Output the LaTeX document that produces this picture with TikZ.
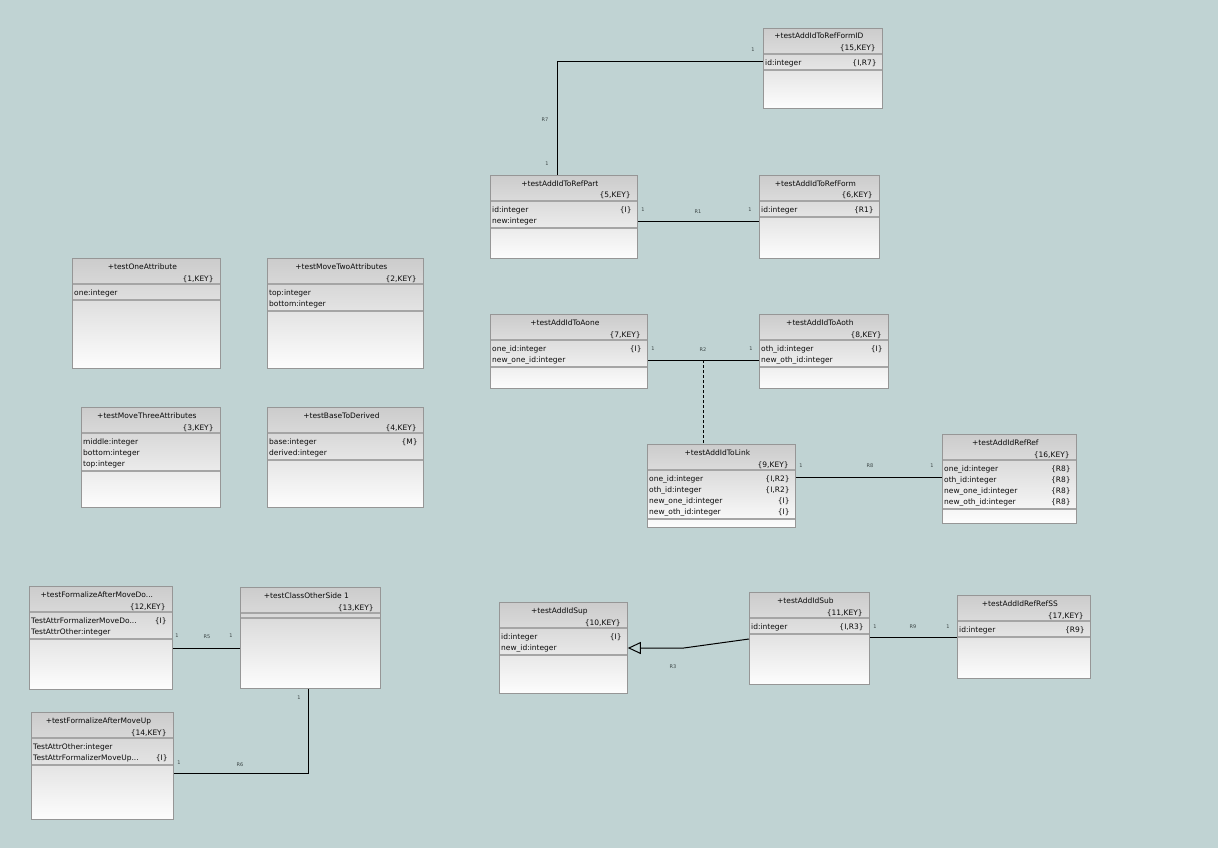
\documentclass[tikz,border=0pt]{standalone}
\usepackage{fontspec}
\setmainfont{DejaVu Sans}
\usetikzlibrary{calc,arrows.meta}
\definecolor{bgteal}{RGB}{192,211,211}
\definecolor{boxtop}{RGB}{204,204,204}
\definecolor{boxbot}{RGB}{253,253,253}
\definecolor{boxline}{RGB}{150,150,150}
\definecolor{sepcol}{RGB}{165,165,165}
\definecolor{labcol}{RGB}{60,70,70}
\definecolor{txtcol}{RGB}{10,10,10}
\tikzset{
  classbox/.style={draw=boxline, line width=0.8pt, top color=boxtop, bottom color=boxbot, inner sep=0pt, rectangle},
  sepline/.style={draw=sepcol, line width=1.6pt},
  ttl/.style={font=\fontsize{7.5}{9}\selectfont, text=txtcol, inner sep=0pt, text height=5.5pt, text depth=1.5pt},
  lab/.style={font=\fontsize{5}{6}\selectfont, text=labcol, inner sep=0pt},
  conn/.style={draw=black, line width=1pt},
}
\newcommand{\umlbox}[7]{%
  \node[classbox, anchor=north west, minimum width={(#4-#2)*1pt}, minimum height={(#5-#3)*1pt}] (#1) at (#2,#3) {};
  \draw[sepline] ($(#1.north west)+(0.5,26)$) -- ($(#1.north east)+(-0.5,26)$);
  \node[ttl] (#1-t) at ($(#1.north)+(-4,9)$) {#6};
  \node[ttl, anchor=east] (#1-k) at ($(#1.north east)+(-7,21)$) {#7};
}
\newcommand{\uattrsep}[2]{%
  \draw[sepline] ($(#1.north west)+(0.5,{42+11*(#2-1)})$) -- ($(#1.north east)+(-0.5,{42+11*(#2-1)})$);
}
\newcommand{\uattr}[4]{%
  \node[ttl, anchor=west] (#1-a#2) at ($(#1.north west)+(2,{35.5+11*(#2-1)})$) {#3};
  \node[ttl, anchor=east] (#1-f#2) at ($(#1.north east)+(-6,{35.5+11*(#2-1)})$) {#4};
}
\begin{document}
\begin{tikzpicture}[x=1pt,y=-1pt]
\useasboundingbox (0,0) rectangle (1231,861);
\fill[bgteal] (0,0) rectangle (1218,848);

% ---- classes ----
\umlbox{OneAttr}{72}{258}{220}{368}{+testOneAttribute}{\{1,KEY\}}
\uattr{OneAttr}{1}{one:integer}{}
\uattrsep{OneAttr}{1}

\umlbox{MoveTwo}{267}{258}{423}{368}{+testMoveTwoAttributes}{\{2,KEY\}}
\uattr{MoveTwo}{1}{top:integer}{}
\uattr{MoveTwo}{2}{bottom:integer}{}
\uattrsep{MoveTwo}{2}

\umlbox{MoveThree}{81}{407}{220}{507}{+testMoveThreeAttributes}{\{3,KEY\}}
\uattr{MoveThree}{1}{middle:integer}{}
\uattr{MoveThree}{2}{bottom:integer}{}
\uattr{MoveThree}{3}{top:integer}{}
\uattrsep{MoveThree}{3}

\umlbox{BaseDer}{267}{407}{423}{507}{+testBaseToDerived}{\{4,KEY\}}
\uattr{BaseDer}{1}{base:integer}{\{M\}}
\uattr{BaseDer}{2}{derived:integer}{}
\uattrsep{BaseDer}{2}

\umlbox{FormID}{763}{28}{882}{108}{+testAddIdToRefFormID}{\{15,KEY\}}
\uattr{FormID}{1}{id:integer}{\{I,R7\}}
\uattrsep{FormID}{1}

\umlbox{RefPart}{490}{175}{637}{258}{+testAddIdToRefPart}{\{5,KEY\}}
\uattr{RefPart}{1}{id:integer}{\{I\}}
\uattr{RefPart}{2}{new:integer}{}
\uattrsep{RefPart}{2}

\umlbox{RefForm}{759}{175}{879}{258}{+testAddIdToRefForm}{\{6,KEY\}}
\uattr{RefForm}{1}{id:integer}{\{R1\}}
\uattrsep{RefForm}{1}

\umlbox{Aone}{490}{314}{647}{388}{+testAddIdToAone}{\{7,KEY\}}
\uattr{Aone}{1}{one\_id:integer}{\{I\}}
\uattr{Aone}{2}{new\_one\_id:integer}{}
\uattrsep{Aone}{2}

\umlbox{Aoth}{759}{314}{888}{388}{+testAddIdToAoth}{\{8,KEY\}}
\uattr{Aoth}{1}{oth\_id:integer}{\{I\}}
\uattr{Aoth}{2}{new\_oth\_id:integer}{}
\uattrsep{Aoth}{2}

\umlbox{Link}{647}{444}{795}{527}{+testAddIdToLink}{\{9,KEY\}}
\uattr{Link}{1}{one\_id:integer}{\{I,R2\}}
\uattr{Link}{2}{oth\_id:integer}{\{I,R2\}}
\uattr{Link}{3}{new\_one\_id:integer}{\{I\}}
\uattr{Link}{4}{new\_oth\_id:integer}{\{I\}}
\uattrsep{Link}{4}

\umlbox{RefRef}{942}{434}{1076}{523}{+testAddIdRefRef}{\{16,KEY\}}
\uattr{RefRef}{1}{one\_id:integer}{\{R8\}}
\uattr{RefRef}{2}{oth\_id:integer}{\{R8\}}
\uattr{RefRef}{3}{new\_one\_id:integer}{\{R8\}}
\uattr{RefRef}{4}{new\_oth\_id:integer}{\{R8\}}
\uattrsep{RefRef}{4}

\umlbox{FAMD}{29}{586}{172}{689}{+testFormalizeAfterMoveDo...}{\{12,KEY\}}
\uattr{FAMD}{1}{TestAttrFormalizerMoveDo...}{\{I\}}
\uattr{FAMD}{2}{TestAttrOther:integer}{}
\uattrsep{FAMD}{2}

\umlbox{COS}{240}{587}{380}{688}{+testClassOtherSide 1}{\{13,KEY\}}
\uattrsep{COS}{0}

\umlbox{FAMU}{31}{712}{173}{819}{+testFormalizeAfterMoveUp}{\{14,KEY\}}
\uattr{FAMU}{1}{TestAttrOther:integer}{}
\uattr{FAMU}{2}{TestAttrFormalizerMoveUp...}{\{I\}}
\uattrsep{FAMU}{2}

\umlbox{Sup}{499}{602}{627}{693}{+testAddIdSup}{\{10,KEY\}}
\uattr{Sup}{1}{id:integer}{\{I\}}
\uattr{Sup}{2}{new\_id:integer}{}
\uattrsep{Sup}{2}

\umlbox{Sub}{749}{592}{869}{684}{+testAddIdSub}{\{11,KEY\}}
\uattr{Sub}{1}{id:integer}{\{I,R3\}}
\uattrsep{Sub}{1}

\umlbox{SS}{957}{595}{1090}{678}{+testAddIdRefRefSS}{\{17,KEY\}}
\uattr{SS}{1}{id:integer}{\{R9\}}
\uattrsep{SS}{1}

% ---- connectors ----
\draw[conn] ($(RefPart.north west)+(67,0)$) |- ($(FormID.north west)+(0,34)$);
\draw[conn] ($(RefPart.north east)+(0,46)$) -- ($(RefForm.north west)+(0,46)$);
\draw[conn] ($(Aone.north east)+(0,46)$) -- ($(Aoth.north west)+(0,46)$);
\coordinate (r2mid) at ($(Aone.north east)+(56,46)$);
\draw[conn, line width=0.9pt, dash pattern=on 3pt off 2pt] (r2mid) -- (r2mid |- Link.north);
\draw[conn] ($(Link.north east)+(0,33)$) -- ($(RefRef.north west)+(0,43)$);
\draw[conn] ($(FAMD.north east)+(0,62)$) -- ($(COS.north west)+(0,61)$);
\draw[conn] ($(FAMU.north east)+(0,61)$) -| ($(COS.south west)+(68,0)$);
\coordinate (r3bend) at ($(Sup.north east)+(56,46)$);
\draw[conn, -{Triangle[open, length=13pt, width=12pt, line width=1pt]}] ($(Sub.north west)+(0,47)$) -- (r3bend) -- ($(Sup.north east)+(0,46)$);
\draw[conn] ($(Sub.north east)+(0,45)$) -- ($(SS.north west)+(0,42)$);

% ---- labels ----
\node[lab] (l7n) at (545,120) {R7};
\node[lab] (l7a) at (547,164) {1};
\node[lab] (l7b) at (753,50) {1};
\node[lab] (l1a) at (643,210) {1};
\node[lab] (l1n) at (698,212) {R1};
\node[lab] (l1b) at (750,210) {1};
\node[lab] (l2a) at (653,349) {1};
\node[lab] (l2n) at (703,350) {R2};
\node[lab] (l2b) at (751,349) {1};
\node[lab] (l8a) at (801,466) {1};
\node[lab] (l8n) at (870,466) {R8};
\node[lab] (l8b) at (932,466) {1};
\node[lab] (l5a) at (177,636) {1};
\node[lab] (l5n) at (207,637) {R5};
\node[lab] (l5b) at (231,636) {1};
\node[lab] (l6a) at (179,763) {1};
\node[lab] (l6n) at (240,765) {R6};
\node[lab] (l6b) at (299,698) {1};
\node[lab] (l3n) at (673,667) {R3};
\node[lab] (l9a) at (875,627) {1};
\node[lab] (l9n) at (913,627) {R9};
\node[lab] (l9b) at (948,627) {1};
\end{tikzpicture}
\end{document}
